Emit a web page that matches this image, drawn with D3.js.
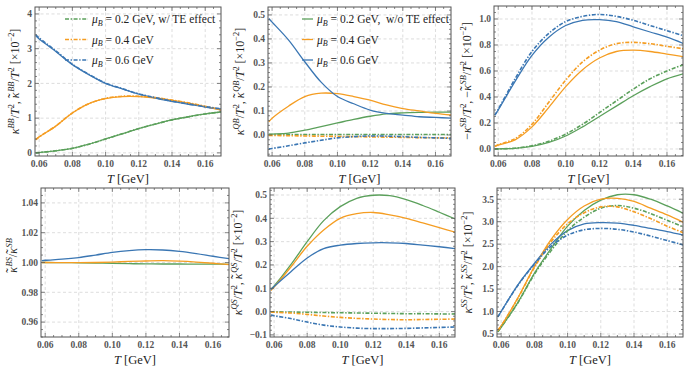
<!DOCTYPE html>
<html><head><meta charset="utf-8">
<script src="https://cdn.jsdelivr.net/npm/d3@7"></script>
<style>
body{margin:0;background:#fff;}
svg{display:block;}
text{font-family:"Liberation Serif","DejaVu Serif",serif;}
</style></head>
<body><svg id="c" width="689" height="373"></svg>
<script>
// ---------- data ----------
const T = [0.058, 0.06, 0.07, 0.08, 0.09, 0.10, 0.11, 0.12, 0.13, 0.14, 0.15, 0.16, 0.17];
const muB = ["0.2", "0.4", "0.6"];
const xTicks = [0.06, 0.08, 0.10, 0.12, 0.14, 0.16];

// panel 1: kappa^BB/T^2
const bb_g = [0.00, 0.01, 0.06, 0.13, 0.25, 0.40, 0.55, 0.70, 0.83, 0.95, 1.04, 1.12, 1.18];
const bb_o = [0.38, 0.46, 0.77, 1.15, 1.42, 1.56, 1.62, 1.62, 1.58, 1.51, 1.43, 1.33, 1.23];
const bb_b = [3.37, 3.28, 2.92, 2.54, 2.25, 2.00, 1.84, 1.69, 1.58, 1.48, 1.40, 1.32, 1.26];
const bbTE_g = [0.00, 0.01, 0.06, 0.13, 0.25, 0.40, 0.55, 0.70, 0.83, 0.95, 1.04, 1.12, 1.18];
const bbTE_o = [0.38, 0.46, 0.77, 1.15, 1.42, 1.57, 1.63, 1.63, 1.59, 1.52, 1.44, 1.34, 1.24];
const bbTE_b = [3.40, 3.31, 2.94, 2.55, 2.26, 2.01, 1.85, 1.70, 1.59, 1.49, 1.41, 1.33, 1.27];
// panel 2: kappa^QB/T^2
const qb_g = [0.003, 0.004, 0.008, 0.020, 0.035, 0.050, 0.065, 0.078, 0.088, 0.092, 0.094, 0.095, 0.095];
const qb_o = [0.055, 0.070, 0.120, 0.160, 0.174, 0.172, 0.160, 0.145, 0.125, 0.110, 0.100, 0.090, 0.083];
const qb_b = [0.485, 0.470, 0.396, 0.305, 0.220, 0.160, 0.130, 0.104, 0.090, 0.083, 0.076, 0.073, 0.070];
const qbTE_g = [0.002, 0.002, 0.002, 0.002, 0.002, 0.002, 0.002, 0.002, 0.002, 0.002, 0.002, 0.002, 0.002];
const qbTE_o = [-0.002, -0.002, -0.003, -0.004, -0.005, -0.006, -0.007, -0.008, -0.009, -0.010, -0.011, -0.012, -0.012];
const qbTE_b = [-0.058, -0.056, -0.045, -0.033, -0.022, -0.012, -0.007, -0.004, -0.005, -0.007, -0.010, -0.012, -0.014];
// panel 3: -kappa^SB/T^2
const sb_g = [0.000, 0.001, 0.005, 0.020, 0.050, 0.100, 0.170, 0.250, 0.330, 0.410, 0.480, 0.540, 0.580];
const sb_o = [0.020, 0.030, 0.070, 0.170, 0.320, 0.480, 0.610, 0.700, 0.750, 0.760, 0.750, 0.730, 0.710];
const sb_b = [0.260, 0.300, 0.520, 0.720, 0.860, 0.950, 0.990, 0.995, 0.980, 0.940, 0.900, 0.860, 0.810];
const sbTE_g = [0.000, 0.001, 0.006, 0.025, 0.060, 0.115, 0.190, 0.280, 0.370, 0.460, 0.540, 0.600, 0.650];
const sbTE_o = [0.020, 0.032, 0.080, 0.190, 0.360, 0.530, 0.670, 0.760, 0.810, 0.820, 0.810, 0.790, 0.770];
const sbTE_b = [0.260, 0.305, 0.540, 0.750, 0.890, 0.980, 1.020, 1.035, 1.020, 0.990, 0.950, 0.910, 0.870];
// panel 4: ratio kappa~BS / kappa~SB
const rat_g = [1.0000, 1.0000, 0.9999, 0.9998, 0.9996, 0.9994, 0.9992, 0.9991, 0.9990, 0.9990, 0.9989, 0.9989, 0.9988];
const rat_o = [1.0000, 1.0000, 0.9999, 0.9999, 1.0000, 1.0003, 1.0007, 1.0010, 1.0012, 1.0009, 1.0003, 0.9995, 0.9986];
const rat_b = [1.0012, 1.0015, 1.0022, 1.0033, 1.0050, 1.0068, 1.0080, 1.0086, 1.0084, 1.0075, 1.0060, 1.0042, 1.0025];
// panel 5: kappa^QS/T^2
const qs_g = [0.095, 0.110, 0.200, 0.300, 0.390, 0.450, 0.486, 0.499, 0.497, 0.480, 0.455, 0.426, 0.396];
const qs_o = [0.090, 0.105, 0.190, 0.280, 0.350, 0.400, 0.420, 0.425, 0.415, 0.400, 0.380, 0.360, 0.340];
const qs_b = [0.095, 0.108, 0.170, 0.230, 0.270, 0.285, 0.292, 0.295, 0.295, 0.292, 0.285, 0.278, 0.270];
const qsTE_g = [-0.001, -0.001, -0.002, -0.003, -0.004, -0.005, -0.006, -0.007, -0.008, -0.009, -0.009, -0.010, -0.010];
const qsTE_o = [-0.002, -0.003, -0.006, -0.012, -0.019, -0.025, -0.029, -0.032, -0.034, -0.035, -0.034, -0.033, -0.032];
const qsTE_b = [-0.015, -0.018, -0.030, -0.045, -0.058, -0.066, -0.071, -0.073, -0.073, -0.072, -0.070, -0.068, -0.066];
// panel 6: kappa^SS/T^2
const ss_g = [0.55, 0.65, 1.20, 1.85, 2.40, 2.90, 3.25, 3.48, 3.60, 3.60, 3.50, 3.35, 3.18];
const ss_o = [0.58, 0.68, 1.30, 2.00, 2.60, 3.05, 3.35, 3.50, 3.52, 3.45, 3.30, 3.15, 2.98];
const ss_b = [0.88, 1.00, 1.59, 2.07, 2.50, 2.80, 2.95, 2.98, 2.97, 2.92, 2.85, 2.78, 2.70];
const ssTE_g = [0.55, 0.65, 1.19, 1.83, 2.35, 2.80, 3.10, 3.30, 3.36, 3.30, 3.18, 3.03, 2.88];
const ssTE_o = [0.58, 0.68, 1.29, 1.98, 2.55, 2.95, 3.20, 3.33, 3.33, 3.22, 3.07, 2.90, 2.75];
const ssTE_b = [0.88, 1.00, 1.58, 2.05, 2.45, 2.70, 2.82, 2.85, 2.83, 2.77, 2.68, 2.58, 2.48];

// ---------- styles ----------
const COL = {g: "#5ba05b", o: "#f59d22", b: "#3a76b3"};
const DASHDOT = "4,1.6,1.4,1.6";

const svg = d3.select("#c");

const panels = [
  {frame:[35,7,221,156], y:[-0.09,4.2], yt:[0,1,2,3,4], fmt:d3.format("d"), ymin:0.2,
   solid:[bb_g,bb_o,bb_b], te:[bbTE_g,bbTE_o,bbTE_b], lx:15, lab:"BB", kind:"std", legend:"te"},
  {frame:[268,7,451,156], y:[-0.0875,0.533], yt:[0,0.1,0.2,0.3,0.4,0.5], fmt:d3.format(".1f"), ymin:0.02,
   solid:[qb_g,qb_o,qb_b], te:[qbTE_g,qbTE_o,qbTE_b], lx:240, lab:"QB", kind:"std", legend:"solid"},
  {frame:[494,6,683,156], y:[-0.054,1.1], yt:[0,0.2,0.4,0.6,0.8,1.0], fmt:d3.format(".1f"), ymin:0.05,
   solid:[sb_g,sb_o,sb_b], te:[sbTE_g,sbTE_o,sbTE_b], lx:467, lab:"SB", kind:"neg"},
  {frame:[41,188,229,337], y:[0.95,1.05], yt:[0.96,0.98,1.00,1.02,1.04], fmt:d3.format(".2f"), ymin:0.005,
   solid:[rat_g,rat_o,rat_b], te:[], lx:13, lab:"", kind:"ratio"},
  {frame:[270,188,455,337], y:[-0.109,0.53], yt:[-0.1,0,0.1,0.2,0.3,0.4,0.5], fmt:d3.format(".1f"), ymin:0.02,
   solid:[qs_g,qs_o,qs_b], te:[qsTE_g,qsTE_o,qsTE_b], lx:238, lab:"QS", kind:"std"},
  {frame:[497,188,683,337], y:[0.433,3.75], yt:[0.5,1.0,1.5,2.0,2.5,3.0,3.5], fmt:d3.format(".1f"), ymin:0.1,
   solid:[ss_g,ss_o,ss_b], te:[ssTE_g,ssTE_o,ssTE_b], lx:468, lab:"SS", kind:"std"}
];

// segments: {t, it, sup, sub, tilde}; text returns to baseline automatically
function rich(sel, segs, size) {
  let shift = 0; // current baseline offset
  segs.forEach(s => {
    let target = s.sup ? -size * 0.42 : (s.sub ? size * 0.22 : 0);
    const t = sel.append("tspan").text(s.t);
    if (s.it) t.attr("font-style", "italic");
    if (s.sup || s.sub) t.attr("font-size", size * 0.7);
    if (target !== shift) { t.attr("dy", target - shift); shift = target; }
    if (s.tilde) {
      sel.append("tspan").text("\u02DC").attr("dx", -size * 0.47).attr("dy", -size * 0.05)
        .attr("font-size", size * 1.15);
      shift += -size * 0.05;
      const back = sel.append("tspan").text("\u200A").attr("dx", size * 0.05).attr("dy", -shift);
      shift = 0;
    }
  });
}
function segsFor(p) {
  if (p.kind === "ratio") {
    return [{t:"κ",it:true,tilde:true},{t:"BS",it:true,sup:true},{t:"/"},{t:"κ",it:true,tilde:true},{t:"SB",it:true,sup:true}];
  }
  const neg = p.kind === "neg" ? "−" : "";
  return [
    {t:neg},{t:"κ",it:true},{t:p.lab,it:true,sup:true},{t:"/"},{t:"T",it:true},{t:"2",sup:true},
    {t:", "+neg},{t:"κ",it:true,tilde:true},{t:p.lab,it:true,sup:true},{t:"/"},{t:"T",it:true},{t:"2",sup:true},
    {t:" [×10"},{t:"−2",sup:true},{t:"]"}
  ];
}

panels.forEach((p, i) => {
  const [x0, y0, x1, y1] = p.frame;
  const x = d3.scaleLinear().domain([0.0575, 0.1695]).range([x0, x1]);
  const y = d3.scaleLinear().domain(p.y).range([y1, y0]);
  const g = svg.append("g");
  const cp = "clip" + i;
  svg.append("clipPath").attr("id", cp).append("rect").attr("x", x0).attr("y", y0).attr("width", x1 - x0).attr("height", y1 - y0);

  // grid
  g.selectAll(".gx").data(xTicks).join("line")
    .attr("x1", d => x(d)).attr("x2", d => x(d)).attr("y1", y0).attr("y2", y1)
    .attr("stroke", "#d4d4d4").attr("stroke-width", 0.8).attr("stroke-dasharray", "3,2.5");
  g.selectAll(".gy").data(p.yt).join("line")
    .attr("x1", x0).attr("x2", x1).attr("y1", d => y(d)).attr("y2", d => y(d))
    .attr("stroke", "#d4d4d4").attr("stroke-width", 0.8).attr("stroke-dasharray", "3,2.5");

  // curves
  const line = (arr) => d3.line().x((d, k) => x(T[k])).y(d => y(d)).curve(d3.curveCatmullRom.alpha(0.5))(arr);
  const cols = [COL.g, COL.o, COL.b];
  const lg = g.append("g").attr("clip-path", `url(#${cp})`);
  p.solid.forEach((s, k) => lg.append("path").attr("d", line(s)).attr("fill", "none")
    .attr("stroke", cols[k]).attr("stroke-width", 1.3));
  p.te.forEach((s, k) => lg.append("path").attr("d", line(s)).attr("fill", "none")
    .attr("stroke", cols[k]).attr("stroke-width", 1.6).attr("stroke-dasharray", DASHDOT));

  // frame ticks (inward)
  const xMinor = d3.range(0.06, 0.1701, 0.005).filter(v => v >= 0.0575 && v <= 0.1695);
  const yMinor = d3.range(Math.ceil(p.y[0] / p.ymin) * p.ymin, p.y[1], p.ymin);
  const tk = g.append("g").attr("stroke", "#555").attr("stroke-width", 0.7);
  xMinor.forEach(v => {
    const major = xTicks.some(t => Math.abs(t - v) < 1e-6);
    const L = major ? 4 : 2;
    tk.append("line").attr("x1", x(v)).attr("x2", x(v)).attr("y1", y1).attr("y2", y1 - L);
    tk.append("line").attr("x1", x(v)).attr("x2", x(v)).attr("y1", y0).attr("y2", y0 + L);
  });
  yMinor.forEach(v => {
    const major = p.yt.some(t => Math.abs(t - v) < 1e-6);
    const L = major ? 4 : 2;
    tk.append("line").attr("x1", x0).attr("x2", x0 + L).attr("y1", y(v)).attr("y2", y(v));
    tk.append("line").attr("x1", x1).attr("x2", x1 - L).attr("y1", y(v)).attr("y2", y(v));
  });
  g.append("rect").attr("x", x0).attr("y", y0).attr("width", x1 - x0).attr("height", y1 - y0)
    .attr("fill", "none").attr("stroke", "#555").attr("stroke-width", 1);

  // tick labels
  g.selectAll(".xl").data(xTicks).join("text")
    .attr("x", d => x(d)).attr("y", y1 + 11).attr("text-anchor", "middle")
    .attr("font-size", 9.5).attr("font-weight", "bold").attr("fill", "#555")
    .text(d => d3.format(".2f")(d));
  g.selectAll(".yl").data(p.yt).join("text")
    .attr("x", x0 - 3).attr("y", d => y(d) + 3.3).attr("text-anchor", "end")
    .attr("font-size", 9.5).attr("font-weight", "bold").attr("fill", "#555")
    .text(d => p.fmt(d).replace("-", "−"));

  // x title
  const xt = g.append("text").attr("x", (x0 + x1) / 2).attr("y", y1 + 27).attr("text-anchor", "middle")
    .attr("font-size", 12.5).attr("fill", "#222");
  rich(xt, [{t:"T",it:true},{t:" [GeV]"}], 12.5);

  // y title
  const yc = (y0 + y1) / 2 + (p.kind === "ratio" ? -7 : 0);
  const yt = g.append("text").attr("transform", `translate(${p.lx + 4},${yc}) rotate(-90)`)
    .attr("text-anchor", "middle").attr("font-size", 12).attr("fill", "#222");
  rich(yt, segsFor(p), 12);

  // legends
  if (p.legend) {
    const labels = [
      p.legend === "te" ? "0.2 GeV, w/ TE effect" : "0.2 GeV,  w/o TE effect",
      "0.4 GeV", "0.6 GeV"];
    const lx0 = p.legend === "te" ? 65 : 302;
    const lx1 = p.legend === "te" ? 88 : 313;
    [19, 39.5, 60].forEach((ly, k) => {
      g.append("line").attr("x1", lx0).attr("x2", lx1).attr("y1", ly).attr("y2", ly)
        .attr("stroke", cols[k]).attr("stroke-width", p.legend === "te" ? 1.6 : 1.3)
        .attr("stroke-dasharray", p.legend === "te" ? DASHDOT : null);
      const t = g.append("text").attr("x", lx1 + 4).attr("y", ly + 4).attr("font-size", 11.5).attr("fill", "#222")
        .attr("xml:space", "preserve").style("white-space", "pre");
      rich(t, [{t:"μ",it:true},{t:"B",it:true,sub:true},{t:" = " + labels[k]}], 11.5);
    });
  }
});
</script>
</body></html>
